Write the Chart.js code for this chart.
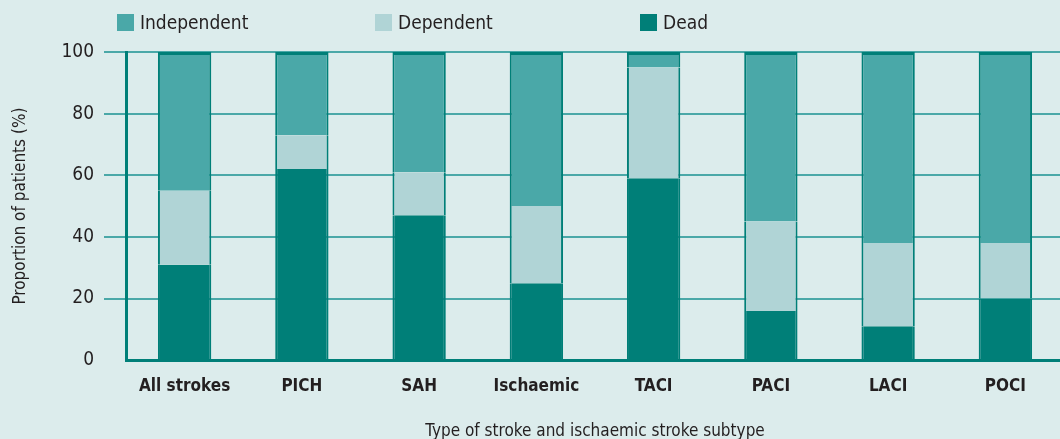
<!DOCTYPE html>
<html>
<head>
<meta charset="utf-8">
<script src="https://cdn.jsdelivr.net/npm/chart.js@4"></script>
<style>
  html, body { margin: 0; padding: 0; background: #dcecec; overflow: hidden; }
  #wrap { position: relative; width: 1060px; height: 439px; overflow: hidden; }
  canvas { position: absolute; left: 0; top: 0; }
  .leg { position: absolute; top: 10px; font: 19px "Liberation Sans Narrow", "DejaVu Sans Condensed", sans-serif; color: #231f20; line-height: 24px; }
  .leg span { display: inline-block; width: 17px; height: 17px; vertical-align: -2px; margin-right: 6px; }
</style>
</head>
<body>
<div id="wrap">
  <canvas id="grafico" width="1064" height="439"></canvas>
  <div class="leg" style="left:117px"><span style="background:#4aa8a8"></span>Independent</div>
  <div class="leg" style="left:375px"><span style="background:#b0d4d6"></span>Dependent</div>
  <div class="leg" style="left:640px"><span style="background:#007f78"></span>Dead</div>
</div>
<script>
const categorias = ['All strokes', 'PICH', 'SAH', 'Ischaemic', 'TACI', 'PACI', 'LACI', 'POCI'];
const mortos = [31, 62, 47, 25, 59, 16, 11, 20];
const dependentes = [24, 11, 14, 25, 36, 29, 27, 18];
const independentes = [45, 27, 39, 50, 5, 55, 62, 62];
const ticksY = [0, 20, 40, 60, 80, 100];

const escuro = '#007f78';
const fonte = "'Liberation Sans Narrow', 'DejaVu Sans Condensed', sans-serif";

const ctx = document.getElementById('grafico').getContext('2d');
new Chart(ctx, {
    type: 'bar',
    data: {
        labels: categorias,
        datasets: [
            { label: 'Dead', data: mortos, backgroundColor: escuro,
              borderColor: escuro, borderSkipped: false, borderWidth: { left: 2, right: 2, top: 0, bottom: 0 } },
            { label: 'Dependent', data: dependentes, backgroundColor: '#b0d4d6',
              borderColor: escuro, borderSkipped: false, borderWidth: { left: 2, right: 2, top: 0, bottom: 0 } },
            { label: 'Independent', data: independentes, backgroundColor: '#4aa8a8',
              borderColor: escuro, borderSkipped: false, borderWidth: { left: 2, right: 2, top: 3, bottom: 0 } }
        ]
    },
    options: {
        responsive: false,
        animation: false,
        layout: { padding: { top: 52, left: 0, right: 0, bottom: 0 } },
        plugins: { legend: { display: false }, tooltip: { enabled: false } },
        datasets: { bar: { categoryPercentage: 1, barPercentage: 0.455 } },
        scales: {
            x: {
                stacked: true,
                grid: { display: false },
                border: { display: true, color: escuro, width: 3 },
                ticks: { color: '#231f20', padding: 8, font: { family: fonte, size: 17, weight: 'bold' } },
                title: { display: true, text: 'Type of stroke and ischaemic stroke subtype', color: '#231f20',
                         padding: { top: 17, bottom: -3 }, font: { family: fonte, size: 17 } }
            },
            y: {
                stacked: true,
                min: 0, max: 100,
                afterFit: (s) => { s.width = 126; },
                afterBuildTicks: (s) => { s.ticks = ticksY.map(v => ({ value: v })); },
                grid: {
                    color: (c) => c.tick && c.tick.value === 0 ? 'rgba(0,0,0,0)' : '#4aa8a8',
                    lineWidth: 2,
                    tickLength: 22
                },
                border: { display: true, color: escuro, width: 3 },
                ticks: { color: '#231f20', padding: 10, font: { family: fonte, size: 19 } },
                title: { display: true, text: 'Proportion of patients (%)', color: '#231f20',
                         padding: { top: 10, bottom: 0 }, font: { family: fonte, size: 17 } }
            }
        }
    }
});
</script>
</body>
</html>
